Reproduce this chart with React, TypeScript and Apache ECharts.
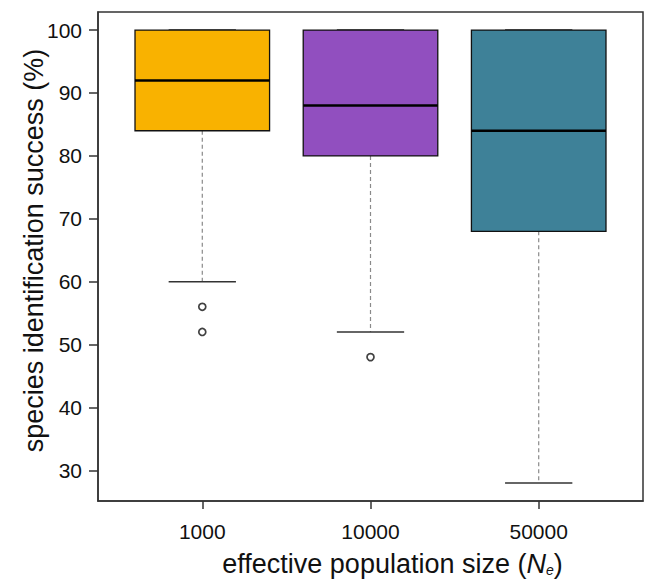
import React, { useEffect, useRef } from "react";
import * as echarts from "echarts";

const categories = ["1000", "10000", "50000"];
const whiskerLow = [60, 52, 28];
const q1 = [84, 80, 68];
const medians = [92, 88, 84];
const q3 = [100, 100, 100];
const whiskerHigh = [100, 100, 100];
const outlierGroup = [0, 0, 1];
const outlierValues = [56, 52, 48];
const yTicks = [30, 40, 50, 60, 70, 80, 90, 100];
const boxColors = ["#F9B200", "#914FBF", "#3E8198"];

const FONT = "'Liberation Sans', Arial, Helvetica, sans-serif";

export default function App() {
  const ref = useRef<HTMLDivElement>(null);
  useEffect(() => {
    if (!ref.current) return;
    const chart = echarts.init(ref.current, null, { renderer: "svg" });
    const boxData = categories.map((_, i) => [
      i + 1,
      whiskerLow[i],
      q1[i],
      medians[i],
      q3[i],
      whiskerHigh[i],
    ]);
    const outlierData = outlierGroup.map((g, i) => [g + 1, outlierValues[i]]);
    chart.setOption({
      animation: false,
      grid: {
        left: 98,
        right: 2,
        top: 12,
        bottom: 80,
        show: true,
        borderColor: "#333",
        borderWidth: 1.5,
        backgroundColor: "transparent",
        containLabel: false,
        outerBoundsMode: "none",
      },
      xAxis: {
        type: "value",
        min: 0.38,
        max: 3.62,
        name: "effective population size ({n|N}{s|e})",
        nameLocation: "middle",
        nameGap: 49,
        nameMoveOverlap: false,
        nameTextStyle: {
          fontSize: 27,
          color: "#111",
          fontFamily: FONT,
          padding: [0, 0, 0, 44],
          rich: {
            n: { fontSize: 27, fontStyle: "italic", color: "#111", fontFamily: FONT },
            s: {
              fontSize: 14,
              fontStyle: "italic",
              color: "#111",
              fontFamily: FONT,
              verticalAlign: "bottom",
              padding: [12, 0, 0, 0],
            },
          },
        },
        axisLine: { show: true, lineStyle: { color: "#333", width: 1.5 } },
        axisTick: {
          show: true,
          length: 8,
          customValues: [1, 2, 3],
          lineStyle: { color: "#333", width: 1.5 },
        },
        axisLabel: {
          customValues: [1, 2, 3],
          formatter: (v: number) => categories[Math.round(v) - 1] ?? "",
          fontSize: 21,
          color: "#111",
          fontFamily: FONT,
          margin: 20,
        },
        splitLine: { show: false },
      },
      yAxis: {
        type: "value",
        min: 25.12,
        max: 102.88,
        name: "species identification success (%)",
        nameLocation: "middle",
        nameGap: 51,
        nameMoveOverlap: false,
        nameTextStyle: {
          fontSize: 27,
          color: "#111",
          fontFamily: FONT,
          padding: [0, 0, 0, 12],
        },
        axisLine: { show: true, lineStyle: { color: "#333", width: 1.5 } },
        axisTick: {
          show: true,
          length: 9,
          customValues: yTicks,
          lineStyle: { color: "#333", width: 1.5 },
        },
        axisLabel: {
          customValues: yTicks,
          fontSize: 21,
          color: "#111",
          fontFamily: FONT,
          margin: 16,
        },
        splitLine: { show: false },
      },
      series: [
        {
          type: "custom",
          data: boxData,
          encode: { x: 0, y: [1, 2, 3, 4, 5] },
          renderItem: (params: any, api: any) => {
            const x = api.value(0);
            const pLow = api.coord([x, api.value(1)]);
            const pQ1 = api.coord([x, api.value(2)]);
            const pMed = api.coord([x, api.value(3)]);
            const pQ3 = api.coord([x, api.value(4)]);
            const pHigh = api.coord([x, api.value(5)]);
            const halfW = api.size([0.8, 0])[0] / 2;
            const capW = halfW / 2;
            const cx = pMed[0];
            const dashStyle = { stroke: "#8a8a8a", lineWidth: 1.2, lineDash: [4, 3] };
            const capStyle = { stroke: "#333", lineWidth: 1.5 };
            return {
              type: "group",
              children: [
                {
                  type: "line",
                  shape: { x1: cx, y1: pQ1[1], x2: cx, y2: pLow[1] },
                  style: dashStyle,
                },
                {
                  type: "line",
                  shape: { x1: cx, y1: pQ3[1], x2: cx, y2: pHigh[1] },
                  style: dashStyle,
                },
                {
                  type: "line",
                  shape: { x1: cx - capW, y1: pLow[1], x2: cx + capW, y2: pLow[1] },
                  style: capStyle,
                },
                {
                  type: "line",
                  shape: { x1: cx - capW, y1: pHigh[1], x2: cx + capW, y2: pHigh[1] },
                  style: capStyle,
                },
                {
                  type: "rect",
                  shape: {
                    x: cx - halfW,
                    y: pQ3[1],
                    width: halfW * 2,
                    height: pQ1[1] - pQ3[1],
                  },
                  style: {
                    fill: boxColors[params.dataIndex],
                    stroke: "#111",
                    lineWidth: 1.3,
                  },
                },
                {
                  type: "line",
                  shape: { x1: cx - halfW, y1: pMed[1], x2: cx + halfW, y2: pMed[1] },
                  style: { stroke: "#000", lineWidth: 2.5 },
                },
              ],
            };
          },
          z: 2,
        },
        {
          type: "scatter",
          data: outlierData,
          symbol: "circle",
          symbolSize: 7,
          itemStyle: { color: "#fff", borderColor: "#111", borderWidth: 1.7 },
          z: 3,
        },
      ],
    });
    return () => chart.dispose();
  }, []);
  return (
    <div
      ref={ref}
      style={{ position: "fixed", left: 0, top: 0, width: 645, height: 581, background: "#fff" }}
    />
  );
}
